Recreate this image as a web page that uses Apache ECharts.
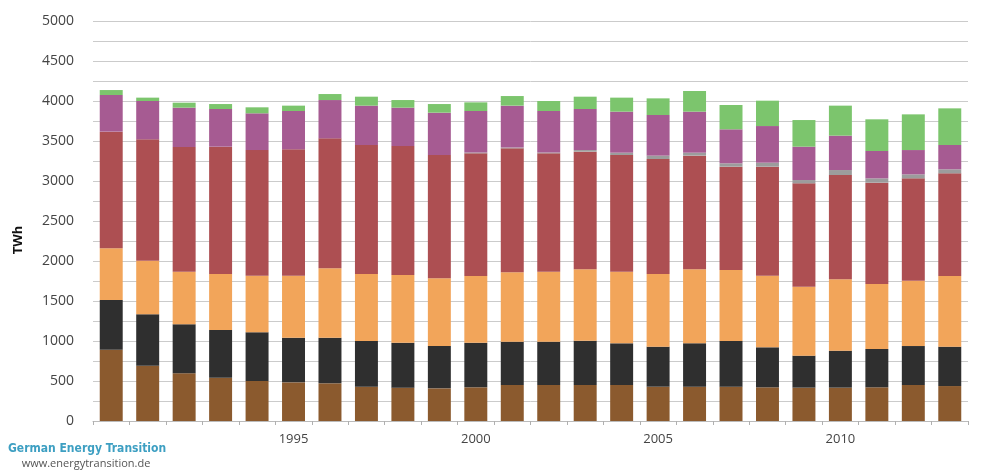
<!DOCTYPE html>
<html>
<head>
<meta charset="utf-8">
<script src="https://cdn.jsdelivr.net/npm/echarts@6/dist/echarts.min.js"></script>
<style>
html,body{margin:0;padding:0;background:#fff;}
#chart{width:984px;height:470px;}
</style>
</head>
<body>
<div id="chart"></div>
<script>
const years = ['1990','1991','1992','1993','1994','1995','1996','1997','1998','1999','2000','2001','2002','2003','2004','2005','2006','2007','2008','2009','2010','2011','2012','2013'];
const shownYears = ['1995','2000','2005','2010'];
const lignite    = [890,692,596,542,500,483,471,429,417,408,421,450,450,450,450,429,429,429,421,417,417,421,450,437];
const hardCoal   = [622,641,612,595,608,559,571,571,562,529,558,542,542,554,521,500,542,571,500,400,462,479,487,492];
const naturalGas = [646,671,659,700,709,775,866,837,846,846,833,866,875,892,896,908,925,887,896,862,892,812,817,883];
const oil        = [1459,1517,1558,1592,1570,1579,1625,1613,1612,1542,1534,1550,1479,1471,1458,1438,1421,1292,1362,1292,1304,1267,1279,1284];
const other      = [0,0,0,0,0,0,0,0,0,0,10,10,10,20,29,42,37,42,50,41,62,54,50,50];
const nuclear    = [458,479,492,471,459,479,479,492,480,529,519,524,519,513,513,508,513,425,458,417,430,342,304,304];
const renewables = [62,42,62,62,75,67,75,112,95,108,108,120,125,154,175,208,258,304,317,333,375,396,446,458];
const yTicks = [0,500,1000,1500,2000,2500,3000,3500,4000,4500,5000];

const seriesDefs = [
  ['Lignite', lignite, '#8b5a2e'],
  ['Hard coal', hardCoal, '#2f2f2f'],
  ['Natural gas', naturalGas, '#f2a55a'],
  ['Oil', oil, '#ad4f52'],
  ['Other', other, '#9c9c9c'],
  ['Nuclear', nuclear, '#a65b92'],
  ['Renewables', renewables, '#7cc56d']
];

const chart = echarts.init(document.getElementById('chart'));
chart.setOption({
  animation: false,
  backgroundColor: '#ffffff',
  grid: {left: 93, right: 16, top: 21, bottom: 49, containLabel: false},
  xAxis: {
    type: 'category',
    data: years,
    boundaryGap: true,
    axisLine: {lineStyle: {color: '#bbbbbb'}},
    axisTick: {show: true, alignWithLabel: false, interval: 0, length: 4, lineStyle: {color: '#b0b0b0'}},
    axisLabel: {
      interval: 0,
      color: '#444',
      fontFamily: 'Open Sans',
      fontSize: 13,
      margin: 12,
      formatter: v => shownYears.indexOf(v) >= 0 ? v : ''
    }
  },
  yAxis: {
    type: 'value',
    min: 0, max: 5000, interval: 250,
    axisLine: {show: false},
    axisTick: {show: false},
    splitLine: {lineStyle: {color: '#cbcbcb', width: 1}},
    axisLabel: {
      color: '#444',
      fontFamily: 'Open Sans',
      fontSize: 14,
      margin: 19,
      formatter: v => yTicks.indexOf(v) >= 0 ? String(v) : ''
    }
  },
  series: seriesDefs.map(([name, data, color]) => ({
    name, type: 'bar', stack: 'total', data,
    barWidth: '63%',
    itemStyle: {color},
    emphasis: {disabled: true}
  })),
  graphic: [
    {type: 'text', x: 18, y: 240, rotation: Math.PI / 2,
     style: {text: 'TWh', fill: '#111', font: 'bold 13px "Open Sans"', textAlign: 'center', textVerticalAlign: 'middle'}},
    {type: 'text', x: 8, y: 449,
     style: {text: 'German Energy Transition', fill: '#3d9fc2', font: 'bold 12px "DejaVu Sans Condensed", "Liberation Sans Narrow", sans-serif', textAlign: 'left', textVerticalAlign: 'middle'}},
    {type: 'text', x: 86, y: 464,
     style: {text: 'www.energytransition.de', fill: '#555', font: '11px "Open Sans"', textAlign: 'center', textVerticalAlign: 'middle'}}
  ]
});
</script>
</body>
</html>
